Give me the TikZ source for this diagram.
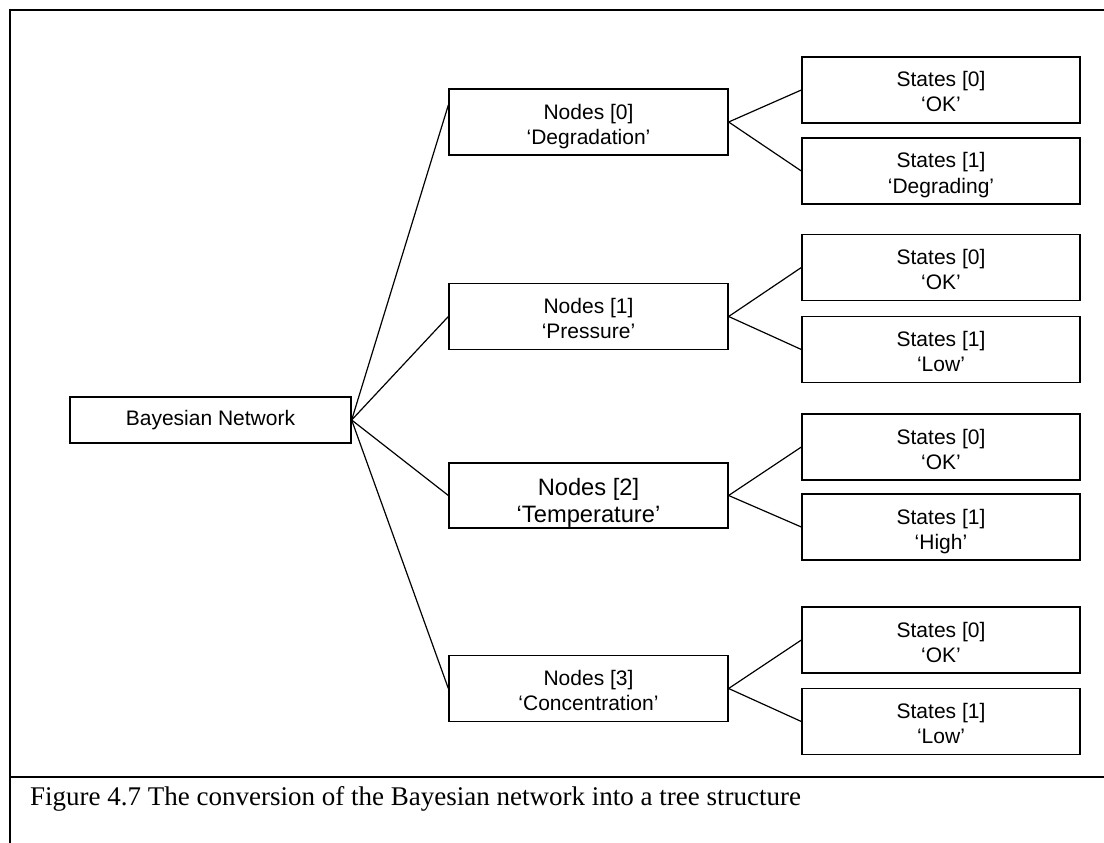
\documentclass[tikz,border=0pt]{standalone}
\usepackage{fontspec}
\setmainfont{Liberation Sans}
\newfontfamily\captionserif{Liberation Serif}
% two-line box text with fixed first-line height and last-line depth
\newcommand\boxlines[2]{\rule{0pt}{24pt}#1\\#2\rule[-5pt]{0pt}{0pt}}
\newcommand\bigboxlines[2]{\rule{0pt}{32pt}#1\\#2\rule[-6pt]{0pt}{0pt}}
\begin{document}
\begin{tikzpicture}[x=1pt,y=-1pt,
  treebox/.style={draw,line width=1.3pt,inner sep=0pt,align=center,
    font=\fontsize{21}{25}\selectfont},
  rootbox/.style={treebox,minimum width=281pt,minimum height=46pt},
  nodebox/.style={treebox,minimum width=279pt,minimum height=66pt},
  statebox/.style={treebox,minimum width=278pt,minimum height=66pt},
  link/.style={line width=1.2pt},
  frame/.style={line width=1.6pt}]
\useasboundingbox (0,0) rectangle (1104,843);

% outer frame and caption rule
\draw[frame] (10,843) -- (10,10) -- (1104,10);
\draw[frame] (10,777) -- (1104,777);

% root
\node[rootbox] (bn) at (210.5,420) {\rule[-5pt]{0pt}{19pt}Bayesian Network};

% network nodes
\node[nodebox] (n0) at (588.5,122)   {\boxlines{Nodes [0]}{‘Degradation’}};
\node[nodebox] (n1) at (588.5,316.5) {\boxlines{Nodes [1]}{‘Pressure’}};
\node[nodebox,minimum height=65pt,font=\fontsize{23.7}{27}\selectfont] (n2) at (588.5,495.5)
  {\bigboxlines{Nodes [2]}{‘Temperature’}};
\node[nodebox] (n3) at (588.5,688.5) {\boxlines{Nodes [3]}{‘Concentration’}};

% states
\node[statebox] (s00) at (941,90)    {\boxlines{States [0]}{‘OK’}};
\node[statebox] (s01) at (941,171)   {\boxlines{States [1]}{‘Degrading’}};
\node[statebox] (s10) at (941,267.5) {\boxlines{States [0]}{‘OK’}};
\node[statebox] (s11) at (941,349.5) {\boxlines{States [1]}{‘Low’}};
\node[statebox] (s20) at (941,447)   {\boxlines{States [0]}{‘OK’}};
\node[statebox] (s21) at (941,527)   {\boxlines{States [1]}{‘High’}};
\node[statebox] (s30) at (941,640)   {\boxlines{States [0]}{‘OK’}};
\node[statebox] (s31) at (941,721.5) {\boxlines{States [1]}{‘Low’}};

% connectors
\draw[link] (bn.east) -- ([yshift=17pt]n0.west);
\draw[link] (bn.east) -- (n1.west);
\draw[link] (bn.east) -- (n2.west);
\draw[link] (bn.east) -- (n3.west);
\foreach \i in {0,1,2,3}{
  \draw[link] (n\i.east) -- (s\i0.west);
  \draw[link] (n\i.east) -- (s\i1.west);
}

% caption
\node[anchor=base west,inner sep=0pt,font=\captionserif\fontsize{27}{31}\selectfont] (cap) at (30,805)
  {Figure 4.7 The conversion of the Bayesian network into a tree structure};
\end{tikzpicture}
\end{document}
